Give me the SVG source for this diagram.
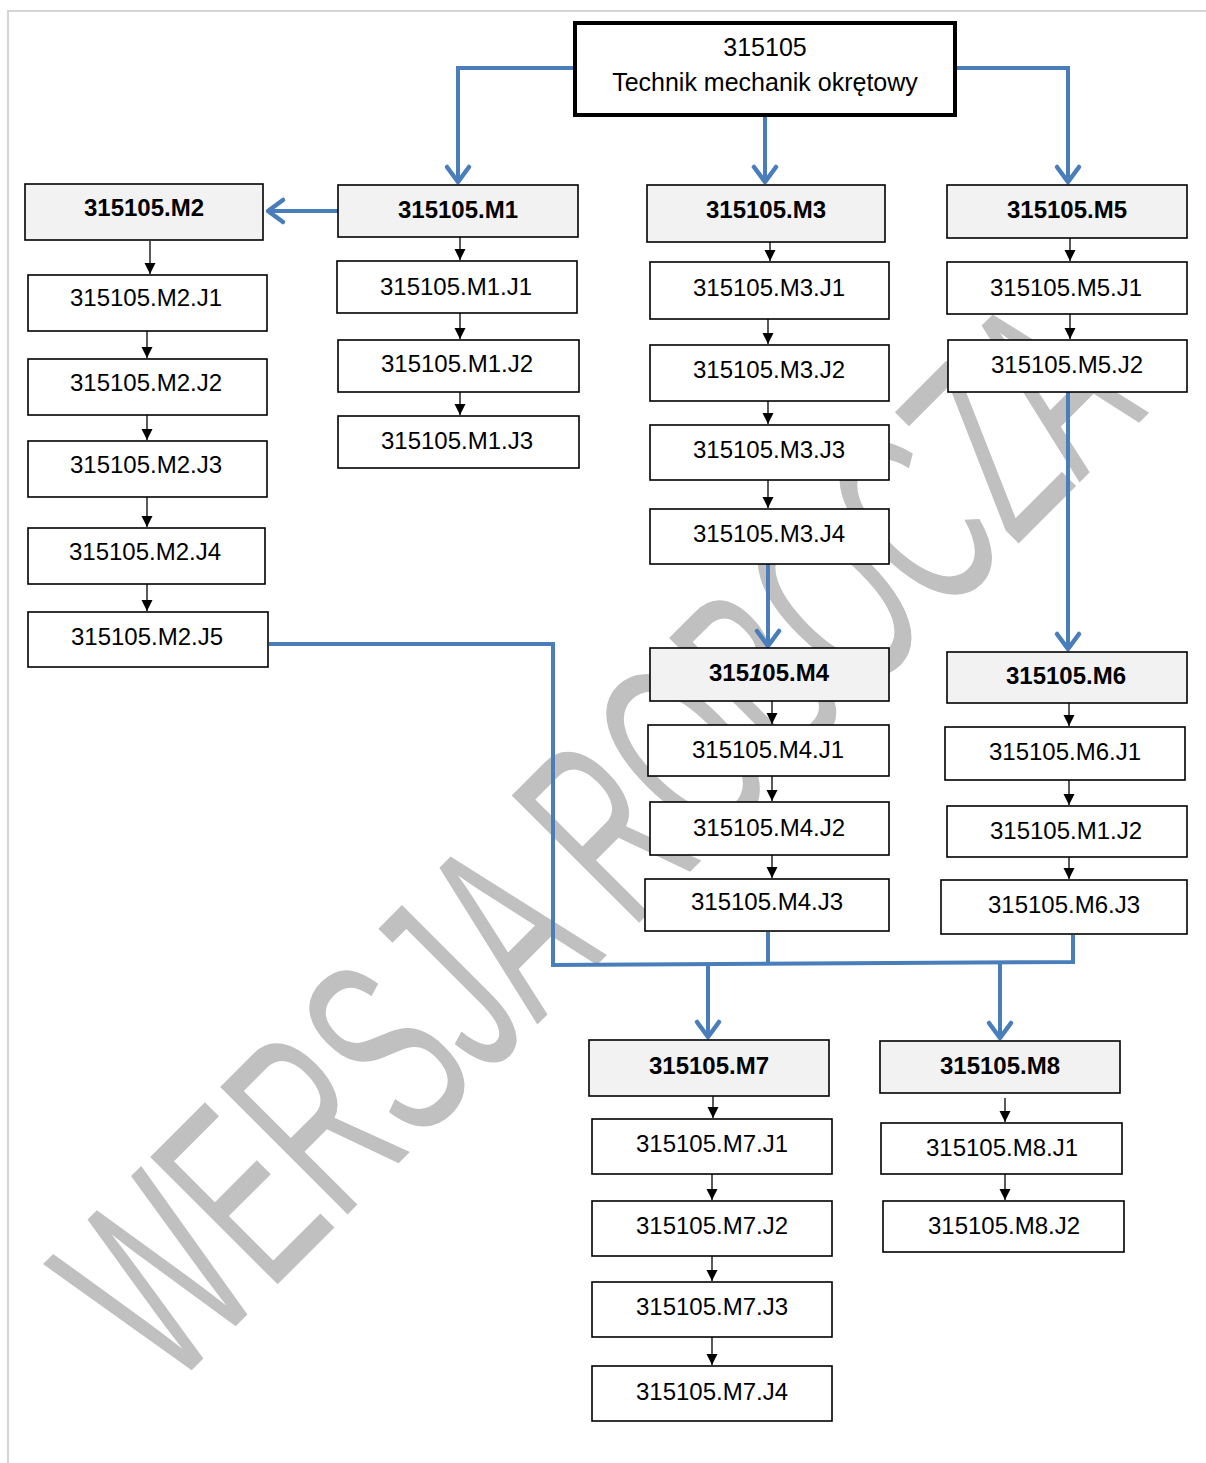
<svg xmlns="http://www.w3.org/2000/svg" width="1206" height="1463" viewBox="0 0 1206 1463">
<defs>
<style>
.bx{fill:#ffffff;stroke:#000;stroke-width:1.6}
.hd{fill:#f2f2f2;stroke:#000;stroke-width:1.6}
.tx{font-family:"Liberation Sans",Arial,sans-serif;font-size:24px;fill:#000;text-anchor:middle}
.tb{font-family:"Liberation Sans",Arial,sans-serif;font-size:24px;font-weight:bold;fill:#000;text-anchor:middle}
.bl{fill:none;stroke:#4a7ebb;stroke-width:4}
.bk{fill:none;stroke:#000;stroke-width:1.3}
</style>
<marker id="ba" markerUnits="userSpaceOnUse" markerWidth="40" markerHeight="40" refX="0" refY="0" orient="auto" overflow="visible">
<path d="M-15,-11 L0,0 L-15,11" fill="none" stroke="#4a7ebb" stroke-width="4.5" stroke-linecap="round" stroke-linejoin="round"/>
</marker>
<marker id="ka" markerUnits="userSpaceOnUse" markerWidth="20" markerHeight="20" refX="0" refY="0" orient="auto" overflow="visible">
<path d="M-11,-5.5 L0,0 L-11,5.5 Z" fill="#000"/>
</marker>
</defs>
<rect x="0" y="0" width="1206" height="1463" fill="#fff"/>
<g id="frame" stroke="#d4d4d4" stroke-width="2" fill="none">
<path d="M8,1463 V11 H1206"/>
</g>
<g id="watermark">
<text x="0" y="0" transform="translate(170,1392) rotate(-45)" font-family="'Liberation Sans Narrow','Liberation Sans',sans-serif" font-size="262" fill="#c0c0c0" textLength="1385" lengthAdjust="spacingAndGlyphs">WERSJA ROBOCZA</text>
</g>
<g id="connectors">
<path class="bl" d="M574,68 H458 V182" marker-end="url(#ba)"/>
<path class="bl" d="M765,116 V182" marker-end="url(#ba)"/>
<path class="bl" d="M956,68 H1068 V182" marker-end="url(#ba)"/>
<path class="bl" d="M338,211 H268" marker-end="url(#ba)"/>
<path class="bl" d="M768,564 V646" marker-end="url(#ba)"/>
<path class="bl" d="M1068,392 V649" marker-end="url(#ba)"/>
<path class="bl" d="M269,644 H553 V965 L1073,962 V935"/>
<path class="bl" d="M768,932 V964"/>
<path class="bl" d="M708,965 V1037" marker-end="url(#ba)"/>
<path class="bl" d="M1000,963 V1038" marker-end="url(#ba)"/>
<g class="bk">
<path d="M150,241 V274" marker-end="url(#ka)"/>
<path d="M147,331 V358" marker-end="url(#ka)"/>
<path d="M147,415 V440" marker-end="url(#ka)"/>
<path d="M147,497 V527" marker-end="url(#ka)"/>
<path d="M147,584 V611" marker-end="url(#ka)"/>
<path d="M460,237 V260" marker-end="url(#ka)"/>
<path d="M460,313 V339" marker-end="url(#ka)"/>
<path d="M460,392 V415" marker-end="url(#ka)"/>
<path d="M770,242 V261" marker-end="url(#ka)"/>
<path d="M768,319 V344" marker-end="url(#ka)"/>
<path d="M768,401 V424" marker-end="url(#ka)"/>
<path d="M768,480 V508" marker-end="url(#ka)"/>
<path d="M1070,238 V261" marker-end="url(#ka)"/>
<path d="M1070,314 V339" marker-end="url(#ka)"/>
<path d="M772,701 V724" marker-end="url(#ka)"/>
<path d="M772,776 V801" marker-end="url(#ka)"/>
<path d="M772,855 V878" marker-end="url(#ka)"/>
<path d="M1069,703 V726" marker-end="url(#ka)"/>
<path d="M1069,780 V805" marker-end="url(#ka)"/>
<path d="M1069,857 V879" marker-end="url(#ka)"/>
<path d="M713,1096 V1118" marker-end="url(#ka)"/>
<path d="M712,1174 V1200" marker-end="url(#ka)"/>
<path d="M712,1256 V1281" marker-end="url(#ka)"/>
<path d="M712,1337 V1365" marker-end="url(#ka)"/>
<path d="M1005,1098 V1122" marker-end="url(#ka)"/>
<path d="M1005,1174 V1200" marker-end="url(#ka)"/>
</g>
</g>
<g id="root">
<rect x="575" y="23" width="380" height="92" fill="#fff" stroke="#000" stroke-width="4"/>
<text class="tx" x="765" y="56" style="font-size:25px">315105</text>
<text class="tx" x="765" y="91" style="font-size:25px">Technik mechanik okrętowy</text>
</g>
<g id="M2"><rect class="hd" x="25" y="184" width="238" height="56"/><text class="tb" x="144" y="216">315105.M2</text></g>
<g id="M1"><rect class="hd" x="338" y="185" width="240" height="52"/><text class="tb" x="458" y="218">315105.M1</text></g>
<g id="M3"><rect class="hd" x="647" y="185" width="238" height="57"/><text class="tb" x="766" y="218">315105.M3</text></g>
<g id="M5"><rect class="hd" x="947" y="185" width="240" height="53"/><text class="tb" x="1067" y="218">315105.M5</text></g>
<g id="M2J1"><rect class="bx" x="28" y="275" width="239" height="56"/><text class="tx" x="146" y="306">315105.M2.J1</text></g>
<g id="M2J2"><rect class="bx" x="28" y="359" width="239" height="56"/><text class="tx" x="146" y="391">315105.M2.J2</text></g>
<g id="M2J3"><rect class="bx" x="28" y="441" width="239" height="56"/><text class="tx" x="146" y="473">315105.M2.J3</text></g>
<g id="M2J4"><rect class="bx" x="28" y="528" width="237" height="56"/><text class="tx" x="145" y="560">315105.M2.J4</text></g>
<g id="M2J5"><rect class="bx" x="28" y="612" width="240" height="55"/><text class="tx" x="147" y="645">315105.M2.J5</text></g>
<g id="M1J1"><rect class="bx" x="337" y="261" width="240" height="52"/><text class="tx" x="456" y="295">315105.M1.J1</text></g>
<g id="M1J2"><rect class="bx" x="338" y="340" width="241" height="52"/><text class="tx" x="457" y="372">315105.M1.J2</text></g>
<g id="M1J3"><rect class="bx" x="338" y="416" width="241" height="52"/><text class="tx" x="457" y="449">315105.M1.J3</text></g>
<g id="M3J1"><rect class="bx" x="650" y="262" width="239" height="57"/><text class="tx" x="769" y="296">315105.M3.J1</text></g>
<g id="M3J2"><rect class="bx" x="650" y="345" width="239" height="56"/><text class="tx" x="769" y="378">315105.M3.J2</text></g>
<g id="M3J3"><rect class="bx" x="650" y="425" width="239" height="55"/><text class="tx" x="769" y="458">315105.M3.J3</text></g>
<g id="M3J4"><rect class="bx" x="650" y="509" width="239" height="55"/><text class="tx" x="769" y="542">315105.M3.J4</text></g>
<g id="M4"><rect class="hd" x="650" y="648" width="239" height="53"/><text class="tb" x="769" y="681">315<tspan font-style="italic">1</tspan>05.M4</text></g>
<g id="M4J1"><rect class="bx" x="648" y="725" width="241" height="51"/><text class="tx" x="768" y="758">315105.M4.J1</text></g>
<g id="M4J2"><rect class="bx" x="650" y="802" width="239" height="53"/><text class="tx" x="769" y="836">315105.M4.J2</text></g>
<g id="M4J3"><rect class="bx" x="645" y="879" width="244" height="52"/><text class="tx" x="767" y="910">315105.M4.J3</text></g>
<g id="M5J1"><rect class="bx" x="947" y="262" width="240" height="52"/><text class="tx" x="1066" y="296">315105.M5.J1</text></g>
<g id="M5J2"><rect class="bx" x="948" y="340" width="239" height="52"/><text class="tx" x="1067" y="373">315105.M5.J2</text></g>
<g id="M6"><rect class="hd" x="947" y="652" width="240" height="51"/><text class="tb" x="1066" y="684">315105.M6</text></g>
<g id="M6J1"><rect class="bx" x="945" y="727" width="240" height="53"/><text class="tx" x="1065" y="760">315105.M6.J1</text></g>
<g id="M6J2"><rect class="bx" x="947" y="806" width="240" height="51"/><text class="tx" x="1066" y="839">315105.M1.J2</text></g>
<g id="M6J3"><rect class="bx" x="941" y="880" width="246" height="54"/><text class="tx" x="1064" y="913">315105.M6.J3</text></g>
<g id="M7"><rect class="hd" x="589" y="1040" width="240" height="56"/><text class="tb" x="709" y="1074">315105.M7</text></g>
<g id="M7J1"><rect class="bx" x="592" y="1119" width="240" height="55"/><text class="tx" x="712" y="1152">315105.M7.J1</text></g>
<g id="M7J2"><rect class="bx" x="592" y="1201" width="240" height="55"/><text class="tx" x="712" y="1234">315105.M7.J2</text></g>
<g id="M7J3"><rect class="bx" x="592" y="1282" width="240" height="55"/><text class="tx" x="712" y="1315">315105.M7.J3</text></g>
<g id="M7J4"><rect class="bx" x="592" y="1366" width="240" height="55"/><text class="tx" x="712" y="1400">315105.M7.J4</text></g>
<g id="M8"><rect class="hd" x="880" y="1041" width="240" height="52"/><text class="tb" x="1000" y="1074">315105.M8</text></g>
<g id="M8J1"><rect class="bx" x="881" y="1123" width="241" height="51"/><text class="tx" x="1002" y="1156">315105.M8.J1</text></g>
<g id="M8J2"><rect class="bx" x="883" y="1201" width="241" height="51"/><text class="tx" x="1004" y="1234">315105.M8.J2</text></g>
</svg>
